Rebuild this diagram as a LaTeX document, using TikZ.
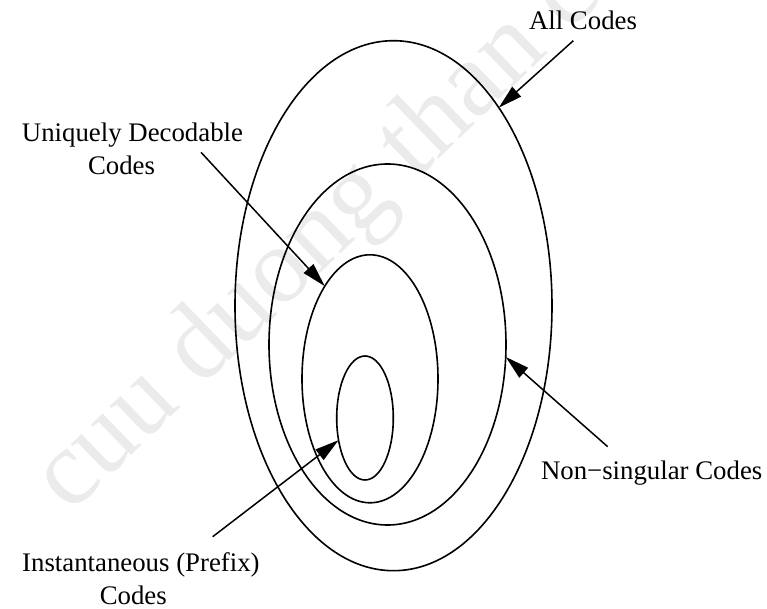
\documentclass[tikz,border=0pt]{standalone}
\usepackage{fontspec}
\setmainfont{Liberation Serif}
\usetikzlibrary{arrows.meta,shapes.geometric}
\begin{document}
\begin{tikzpicture}[x=0.5pt,y=-0.5pt,
  codeset/.style={draw, ellipse, line width=0.8pt, inner sep=0pt, outer sep=0pt},
  lbl/.style={inner sep=0pt, anchor=base, font=\fontsize{13.4}{16}\selectfont},
  pointer/.style={line width=0.75pt, -{Triangle[length=12pt,width=6.5pt]}},
  wmark/.style={inner sep=0pt, anchor=base west, text=black!8,
                font=\fontsize{54}{60}\selectfont}]
  \useasboundingbox (0,0) rectangle (767,609);

  % faint background stamp
  \node[wmark, rotate=44] (stamp) at (70,515) {cuu duong than cong};

  % nested classes of codes
  \node[codeset, minimum width=158.5pt, minimum height=265pt]   (all)  at (393.5,305.7) {};
  \node[codeset, minimum width=118.5pt, minimum height=180.5pt] (nons) at (387.5,344.5) {};
  \node[codeset, minimum width=68pt,    minimum height=124pt]   (ud)   at (370,378.8) {};
  \node[codeset, minimum width=28.3pt,  minimum height=62pt]    (inst) at (365,418) {};

  % labels
  \node[lbl] (allLbl)   at (583,29.3)    {All Codes};
  \node[lbl] (udLbl)    at (132.5,141.7) {Uniquely Decodable};
  \node[lbl] (udLblB)   at (121.5,175)   {Codes};
  \node[lbl] (nonsLbl)  at (651.7,479.3) {Non−singular Codes};
  \node[lbl] (instLbl)  at (140.9,571.7) {Instantaneous (Prefix)};
  \node[lbl] (instLblB) at (133.3,604)   {Codes};

  % pointer tails
  \coordinate (allTail)  at (573.3,40.7);
  \coordinate (udTail)   at (201,152.3);
  \coordinate (nonsTail) at (607.7,446.7);
  \coordinate (instTail) at (212.7,536.7);

  % pointers
  \draw[pointer] (allTail)  -- (all.62);
  \draw[pointer] (udTail)   -- (ud.116.4);
  \draw[pointer] (nonsTail) -- (nons.-6.6);
  \draw[pointer] (instTail) -- (inst.-140);
\end{tikzpicture}
\end{document}
